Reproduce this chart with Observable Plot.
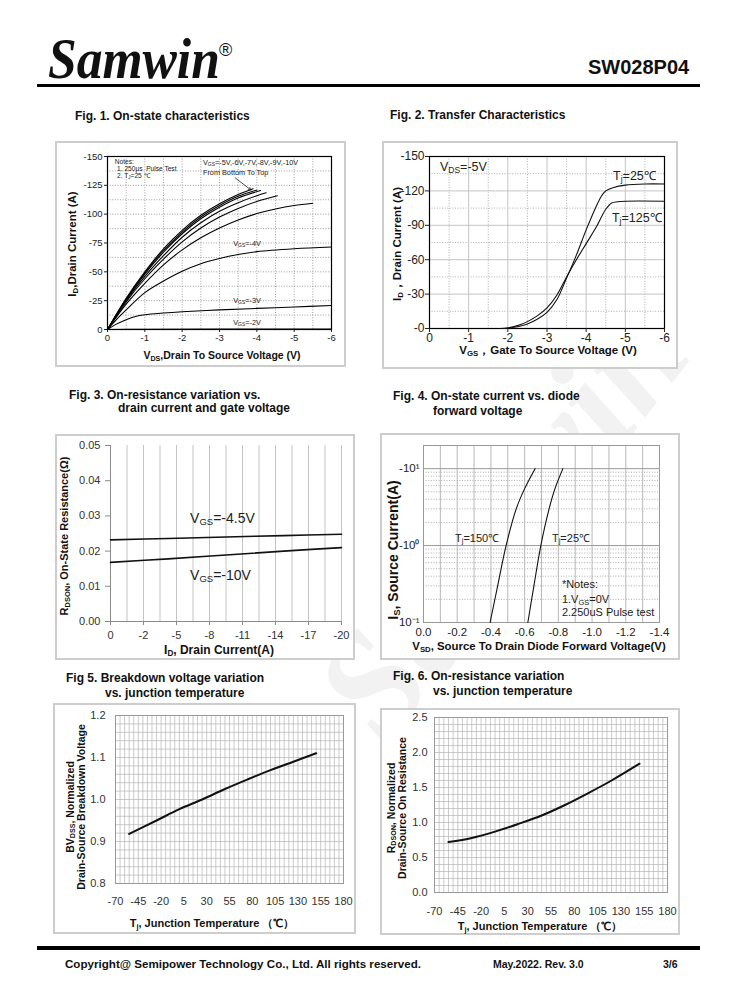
<!DOCTYPE html>
<html><head><meta charset="utf-8">
<script src="https://cdn.jsdelivr.net/npm/d3@7"></script>
<script src="https://cdn.jsdelivr.net/npm/@observablehq/plot@0.6"></script>
<style>
body{margin:0;background:#fff;font-family:"Liberation Sans",Arial,sans-serif;color:#111;}
#page{position:relative;width:738px;height:1000px;overflow:hidden;background:#fff;}
.abs{position:absolute;white-space:nowrap;line-height:1;}
.frame{position:absolute;border:2px solid #cdcdcd;box-sizing:border-box;background:#fff;}
.frame svg{position:absolute;left:0;top:0;}
sub{font-size:0.68em;vertical-align:-0.25em;line-height:0;}
sup{font-size:0.68em;vertical-align:0.45em;line-height:0;}
</style></head><body><div id="page"></div>
<script>
// ---------------- DATA ----------------
// Fig 1: On-state characteristics, [VDS (V), ID (A)]
const f1Vgs2  = [[0,0],[-1,-0.2],[-3,-0.3],[-6,-0.4]];
const f1Vgs3  = [[0,0],[-0.2,-4],[-0.5,-8.5],[-0.75,-11.3],[-1,-12.8],[-1.5,-14.3],[-2,-15.4],[-3,-17],[-4,-18.3],[-5,-19.5],[-6,-20.8]];
const f1Vgs4  = [[0,0],[-0.25,-9],[-0.5,-17],[-1,-32],[-1.5,-42],[-2,-50.5],[-2.5,-57],[-3,-61.5],[-3.5,-65],[-4,-67.5],[-5,-70],[-6,-71.5]];
const f1Vgs5  = [[0,0],[-0.5,-22],[-1,-40],[-1.5,-56],[-2,-69],[-2.5,-79.5],[-3,-88],[-3.5,-95],[-4,-100.5],[-4.5,-104.5],[-5,-107.5],[-5.5,-109.5]];
const f1Vgs6  = [[0,0],[-0.5,-24],[-1,-44],[-1.5,-61],[-2,-76],[-2.5,-88],[-3,-97.5],[-3.5,-105],[-4,-111],[-4.55,-116]];
const f1Vgs7  = [[0,0],[-0.5,-25],[-1,-46],[-1.5,-64],[-2,-80],[-2.5,-92.5],[-3,-102.5],[-3.5,-110],[-4,-116],[-4.25,-118.5]];
const f1Vgs8  = [[0,0],[-0.5,-26],[-1,-48],[-1.5,-67],[-2,-83],[-2.5,-96],[-3,-106],[-3.5,-114],[-4.1,-120.5]];
const f1Vgs9  = [[0,0],[-0.5,-26.5],[-1,-49],[-1.5,-68.5],[-2,-84.5],[-2.5,-97.5],[-3,-107.5],[-3.5,-115.5],[-4.0,-121]];
const f1Vgs10 = [[0,0],[-0.5,-27],[-1,-50],[-1.5,-70],[-2,-86],[-2.5,-99],[-3,-109],[-3.5,-117],[-3.9,-122]];
const f1XTicks = [0,-1,-2,-3,-4,-5,-6];
const f1YTicks = [0,-25,-50,-75,-100,-125,-150];
const f1Labels = [
  {x:-0.21, y:-145.8, t:"Notes:"},
  {x:-0.27, y:-139.6, t:"1. 250μs&nbsp; Pulse Test"},
  {x:-0.27, y:-133.4, t:"2. T<sub>J</sub>=25 ℃"},
  {x:-2.57, y:-144.5, t:"V<sub>GS</sub>=-5V,-6V,-7V,-8V,-9V,-10V"},
  {x:-2.57, y:-136, t:"From Bottom To Top"},
  {x:-3.38, y:-74.6, t:"V<sub>GS</sub>=-4V"},
  {x:-3.38, y:-25, t:"V<sub>GS</sub>=-3V"},
  {x:-3.38, y:-6, t:"V<sub>GS</sub>=-2V"}
];
const f1Arrow = [{x1:-3.42, y1:-131.5, x2:-3.84, y2:-121}];

// Fig 2: Transfer characteristics, [VGS (V), ID (A)]
const f2T25  = [[-1.9,0],[-2,-0.3],[-2.25,-1.5],[-2.5,-4],[-2.75,-8],[-3,-14],[-3.25,-25],[-3.5,-44],[-3.75,-64],[-4,-86],[-4.25,-106],[-4.4,-116],[-4.5,-120],[-4.7,-123],[-5,-125],[-5.5,-126],[-6,-126]];
const f2T125 = [[-1.8,0],[-2,-0.5],[-2.25,-2.5],[-2.5,-6],[-2.75,-11],[-3,-18],[-3.25,-29],[-3.5,-45],[-3.75,-60],[-4,-74],[-4.25,-88],[-4.5,-104],[-4.65,-109.5],[-4.8,-110.5],[-5,-111],[-6,-111]];
const f2XTicks = [0,-1,-2,-3,-4,-5,-6];
const f2YTicks = [0,-30,-60,-90,-120,-150];
const f2Labels = [
  {x:-0.28, y:-140.4, t:"V<sub>DS</sub>=-5V"},
  {x:-4.70, y:-133.4, t:"T<sub>j</sub>=25℃"},
  {x:-4.67, y:-96.5, t:"T<sub>j</sub>=125℃"}
];

// Fig 3: RDS(on) vs drain current, [ID (A), RDSON (Ω)]
const f3Vgs45 = [[0,0.0232],[-5,0.0236],[-10,0.0240],[-15,0.0244],[-20,0.0248]];
const f3Vgs10 = [[0,0.0168],[-5,0.0178],[-10,0.0189],[-15,0.0200],[-20,0.0210]];
const f3XTickLabels = ["0","-2","-5","-8","-11","-14","-17","-20"];
const f3YTicks = [0,0.01,0.02,0.03,0.04,0.05];
const f3Labels = [
  {x:-6.93, y:0.0293, t:"V<sub>GS</sub>=-4.5V"},
  {x:-6.93, y:0.0131, t:"V<sub>GS</sub>=-10V"}
];

// Fig 4: Body diode, [VSD (V), |IS| (A)]
const f4T150 = [[-0.395,0.1],[-0.44,0.3],[-0.49,1],[-0.55,3],[-0.6,5.5],[-0.662,10]];
const f4T25  = [[-0.619,0.1],[-0.655,0.3],[-0.696,1],[-0.745,3],[-0.78,5.5],[-0.827,10]];
const f4XTicks = [0,-0.2,-0.4,-0.6,-0.8,-1.0,-1.2,-1.4];
const f4YTicks = [0.1,1,10];
const f4YTickLabels = ["10⁻¹","-10⁰","-10¹"];
const f4Labels = [
  {x:-0.19, y:1.27, t:"T<sub>j</sub>=150℃"},
  {x:-0.765, y:1.27, t:"T<sub>j</sub>=25℃"},
  {x:-0.824, y:0.312, t:"*Notes:"},
  {x:-0.824, y:0.20, t:"1.V<sub>GS</sub>=0V"},
  {x:-0.824, y:0.135, t:"2.250uS Pulse test"}
];

// Fig 5: normalized BVDSS vs Tj
const f5Curve = [[-55,0.918],[-25,0.950],[0,0.977],[25,1.000],[50,1.025],[75,1.048],[100,1.070],[125,1.090],[150,1.110]];
const f5YTicks = [0.8,0.9,1.0,1.1,1.2];
// Fig 6: normalized RDS(on) vs Tj
const f6Curve = [[-55,0.72],[-30,0.78],[-5,0.87],[20,0.98],[45,1.10],[70,1.25],[95,1.42],[120,1.60],[150,1.84]];
const f6YTicks = [0,0.5,1.0,1.5,2.0,2.5];
const tjTicks = [-70,-45,-20,5,30,55,80,105,130,155,180];

// ---------------- HELPERS ----------------
const page = document.getElementById("page");
const FONT = '"Liberation Sans", Arial, sans-serif';
const hy = d => String(+d.toFixed(3)).replace("\u2212","-");

function txt(html, left, cy, style = {}) {
  const d = document.createElement("div");
  d.className = "abs"; d.innerHTML = html;
  Object.assign(d.style, {left: left + "px", top: cy + "px", transform: "translateY(-50%)"}, style);
  page.appendChild(d); return d;
}
function axTitle(html, cx, cy, rot, style = {}) {
  const d = document.createElement("div");
  d.className = "abs"; d.innerHTML = html;
  Object.assign(d.style, {left: cx + "px", top: cy + "px", fontWeight: "bold", lineHeight: "1.15", textAlign: "center",
    transform: "translate(-50%,-50%)" + (rot ? " rotate(-90deg)" : "")}, style);
  page.appendChild(d);
}
function mkChart(fr, pa, opts) {
  const [fx0, fy0, fx1, fy1] = fr, [px0, py0, px1, py1] = pa;
  const div = document.createElement("div"); div.className = "frame";
  Object.assign(div.style, {left: fx0 + "px", top: fy0 + "px", width: (fx1 - fx0) + "px", height: (fy1 - fy0) + "px"});
  const ox = fx0 + 2, oy = fy0 + 2, W = fx1 - fx0 - 4, H = fy1 - fy0 - 4;
  const chart = Plot.plot({width: W, height: H, marginLeft: px0 - ox, marginRight: ox + W - px1,
    marginTop: py0 - oy, marginBottom: oy + H - py1,
    style: {background: "transparent", fontFamily: FONT, fontSize: "10px", color: "#222", overflow: "visible"}, ...opts});
  div.appendChild(chart); page.appendChild(div);
  return {chart, ox, oy};
}
function annotate(c, items, style) {
  const sx = c.chart.scale("x"), sy = c.chart.scale("y");
  for (const it of items) txt(it.t, c.ox + sx.apply(it.x), c.oy + sy.apply(it.y), style);
}

// ---------------- WATERMARK ----------------
txt('Samwin', 250, 520, {font: 'italic bold 150px "Liberation Serif", serif', color: "#f2f2f2",
  transform: "translateY(-50%) rotate(-52deg)", transformOrigin: "50% 50%"});

// ---------------- HEADER / FOOTER ----------------
txt('Samwin', 48, 59, {font: 'italic bold 56px "Liberation Serif", "Times New Roman", serif', transform: "translateY(-50%) scaleX(0.92)", transformOrigin: "0 50%"});
txt('®', 219, 50, {font: '18px "Liberation Sans", Arial, sans-serif'});
txt('SW028P04', 588, 67, {font: 'bold 20px "Liberation Sans", Arial, sans-serif'});
const hl = document.createElement("div");
Object.assign(hl.style, {position: "absolute", left: "37px", top: "84px", width: "663px", height: "3px", background: "#000"});
page.appendChild(hl);
const fl = document.createElement("div");
Object.assign(fl.style, {position: "absolute", left: "37px", top: "946px", width: "663px", height: "4px", background: "#000"});
page.appendChild(fl);
txt('Copyright@ Semipower Technology Co., Ltd. All rights reserved.', 65, 963, {font: 'bold 11.6px "Liberation Sans", Arial, sans-serif'});
txt('May.2022. Rev. 3.0', 493, 964, {font: 'bold 10.5px "Liberation Sans Narrow", "Liberation Sans", Arial, sans-serif'});
txt('3/6', 663, 964, {font: 'bold 10.5px "Liberation Sans Narrow", "Liberation Sans", Arial, sans-serif'});

// ---------------- FIGURE TITLES ----------------
const tStyle = {font: 'bold 12px "Liberation Sans", Arial, sans-serif'};
txt('Fig. 1. On-state characteristics', 75, 116, tStyle);
txt('Fig. 2. Transfer Characteristics', 390, 115, tStyle);
txt('Fig. 3. On-resistance variation vs.', 69, 395, tStyle);
txt('drain current and gate voltage', 118, 408, tStyle);
txt('Fig. 4. On-state current vs. diode', 393, 396, tStyle);
txt('forward voltage', 433, 411, tStyle);
txt('Fig 5. Breakdown voltage variation', 66, 678, tStyle);
txt('vs. junction temperature', 105, 693, tStyle);
txt('Fig. 6. On-resistance variation', 393, 676, tStyle);
txt('vs. junction temperature', 433, 691, tStyle);

// ---------------- FIG 1 ----------------
const c1 = mkChart([55,141,346,367], [107,156,331,329], {
  x: {domain: [0,-6]}, y: {domain: [0,-150]},
  marks: [
    Plot.gridX(d3.range(0,-6.01,-0.5), {stroke: "#888", strokeOpacity: 1, strokeDasharray: "1,1.6", strokeWidth: 0.8}),
    Plot.gridY(d3.range(0,-150.1,-12.5), {stroke: "#888", strokeOpacity: 1, strokeDasharray: "1,1.6", strokeWidth: 0.8}),
    Plot.frame({stroke: "#000", strokeWidth: 1.2}),
    Plot.axisX(f1XTicks, {tickFormat: hy, tickSize: 3, tickPadding: 2, fontSize: 9.5, label: null}),
    Plot.axisY(f1YTicks, {tickFormat: hy, tickSize: 3, tickPadding: 2, fontSize: 9.5, label: null}),
    ...[f1Vgs2,f1Vgs3,f1Vgs4,f1Vgs5,f1Vgs6,f1Vgs7,f1Vgs8,f1Vgs9,f1Vgs10].map(s =>
      Plot.line(s, {x: d => d[0], y: d => d[1], stroke: "#000", strokeWidth: 1.1, curve: "catmull-rom"})),
    Plot.arrow(f1Arrow, {x1: "x1", y1: "y1", x2: "x2", y2: "y2", stroke: "#222", strokeWidth: 0.8, headLength: 5})
  ]
});
annotate(c1, f1Labels.slice(0, 3), {font: '6.6px "Liberation Sans", Arial, sans-serif', color: "#222"});
annotate(c1, f1Labels.slice(3), {font: '7.3px "Liberation Sans", Arial, sans-serif', color: "#222"});
axTitle('I<sub>D</sub>,Drain Current (A)', 73, 244, true, {fontSize: "11.5px"});
axTitle('V<sub>DS</sub>,Drain To Source Voltage (V)', 222, 355, false, {fontSize: "10.5px"});

// ---------------- FIG 2 ----------------
const c2 = mkChart([382,141,678,369], [429,156,664,328], {
  x: {domain: [0,-6]}, y: {domain: [0,-150]},
  marks: [
    Plot.gridX(d3.range(-0.5,-6,-1), {stroke: "#999", strokeOpacity: 1, strokeDasharray: "1,1.6", strokeWidth: 0.8}),
    Plot.gridY(d3.range(-15,-150,-30), {stroke: "#999", strokeOpacity: 1, strokeDasharray: "1,1.6", strokeWidth: 0.8}),
    Plot.gridX(f2XTicks, {stroke: "#c4c4c4", strokeOpacity: 1, strokeWidth: 1}),
    Plot.gridY(f2YTicks, {stroke: "#c4c4c4", strokeOpacity: 1, strokeWidth: 1}),
    Plot.frame({stroke: "#000", strokeWidth: 1.2}),
    Plot.axisX(f2XTicks, {tickFormat: hy, tickSize: 4, tickPadding: 1, fontSize: 12, label: null}),
    Plot.axisY(f2YTicks, {tickFormat: d => d === 0 ? "-0" : hy(d), tickSize: 4, tickPadding: 1, fontSize: 12, label: null}),
    ...[f2T25, f2T125].map(s =>
      Plot.line(s, {x: d => d[0], y: d => d[1], stroke: "#111", strokeWidth: 1.1, curve: "catmull-rom"}))
  ]
});
annotate(c2, f2Labels, {font: '12.5px "Liberation Sans", Arial, sans-serif', color: "#222"});
axTitle('I<sub>D</sub>，Drain Current (A)', 398, 244, true, {fontSize: "11.5px"});
axTitle('V<sub>GS</sub>，Gate To Source Voltage (V)', 548, 351, false, {fontSize: "11.5px"});

// ---------------- FIG 3 ----------------
const f3Pos = f3XTickLabels.map((_, i) => -i * 20 / 7);
const c3 = mkChart([55,434,355,660], [110,445,341,621], {
  x: {domain: [0,-20]}, y: {domain: [0,0.05]},
  marks: [
    Plot.gridX(d3.range(0,15).map(i => -i * 20 / 14), {stroke: "#c4c4c4", strokeOpacity: 1, strokeWidth: 1}),
    Plot.ruleX([0], {stroke: "#8a8a8a"}),
    Plot.ruleY([0], {stroke: "#8a8a8a"}),
    Plot.axisX(f3Pos, {tickFormat: (d, i) => f3XTickLabels[i], tickSize: 4, tickPadding: 6, fontSize: 11, stroke: "#8a8a8a", fill: "#333", label: null}),
    Plot.axisY(f3YTicks, {tickFormat: d => d.toFixed(2), tickSize: 5, tickPadding: 5, fontSize: 11, stroke: "#8a8a8a", fill: "#333", label: null}),
    ...[f3Vgs45, f3Vgs10].map(s =>
      Plot.line(s, {x: d => d[0], y: d => d[1], stroke: "#111", strokeWidth: 1.6, curve: "catmull-rom"}))
  ]
});
annotate(c3, f3Labels, {font: '14px "Liberation Sans", Arial, sans-serif', color: "#222"});
axTitle('R<sub>DSON</sub>, On-State Resistance(Ω)', 64, 536, true, {fontSize: "11px"});
axTitle('I<sub>D</sub>, Drain Current(A)', 219, 651, false, {fontSize: "12px"});

// ---------------- FIG 4 ----------------
const f4Minor = [];
for (const dec of [0.1, 1, 10]) for (let k = 2; k <= 9; k++) if (dec * k < 20) f4Minor.push(dec * k);
const f4Fmt = d => f4YTickLabels[f4YTicks.findIndex(t => Math.abs(t - d) < 1e-9 * t)] ?? "";
const c4 = mkChart([380,433,680,660], [423,445,659,622], {
  x: {domain: [0,-1.4]}, y: {type: "log", domain: [0.1,20], axis: null},
  marks: [
    Plot.gridY(f4Minor, {stroke: "#999", strokeOpacity: 1, strokeDasharray: "1,1.6", strokeWidth: 0.8}),
    Plot.gridX(d3.range(-0.1,-1.4,-0.1), {stroke: "#b8b8b8", strokeOpacity: 1, strokeWidth: 1}),
    Plot.gridY(f4YTicks, {stroke: "#999", strokeOpacity: 1, strokeWidth: 1}),
    Plot.frame({stroke: "#999", strokeWidth: 1}),
    Plot.axisX(f4XTicks, {tickFormat: d => d.toFixed(1).replace("\u2212","-"), tickSize: 0, tickPadding: 5, fontSize: 11.5, fill: "#222", label: null}),
    Plot.text(f4YTicks, {x: 0, y: d => d, text: f4Fmt, textAnchor: "end", dx: -4, fontSize: 11.5, fill: "#222"}),
    ...[f4T150, f4T25].map(s =>
      Plot.line(s, {x: d => d[0], y: d => d[1], stroke: "#111", strokeWidth: 1.1, curve: "catmull-rom"}))
  ]
});
annotate(c4, f4Labels, {font: '11px "Liberation Sans", Arial, sans-serif', color: "#222"});
axTitle('I<sub>S</sub>, Source Current(A)', 393, 550, true, {fontSize: "14px"});
axTitle('V<sub>SD</sub>, Source To Drain Diode Forward Voltage(V)', 539, 647, false, {fontSize: "11.4px"});

// ---------------- FIG 5 ----------------
const c5 = mkChart([53,703,356,934], [115,715,343,883], {
  x: {domain: [-70,180]}, y: {domain: [0.8,1.2]},
  marks: [
    Plot.gridX(d3.range(-70,181,5), {stroke: "#b4b4b4", strokeOpacity: 1, strokeWidth: 0.7}),
    Plot.gridY(d3.range(0.8,1.2001,0.02), {stroke: "#b4b4b4", strokeOpacity: 1, strokeWidth: 0.7}),
    Plot.frame({stroke: "#999", strokeWidth: 1}),
    Plot.axisX(tjTicks, {tickFormat: hy, tickSize: 0, tickPadding: 14, fontSize: 11, fill: "#333", label: null}),
    Plot.axisY(f5YTicks, {tickFormat: d => d.toFixed(1), tickSize: 0, tickPadding: 10, fontSize: 11, fill: "#333", label: null}),
    Plot.line(f5Curve, {x: d => d[0], y: d => d[1], stroke: "#111", strokeWidth: 2, curve: "catmull-rom"})
  ]
});
axTitle('BV<sub>DSS</sub>, Normalized<br>Drain-Source Breakdown Voltage', 75, 807, true, {fontSize: "10.5px", lineHeight: "1.0"});
axTitle('T<sub>j</sub>, Junction Temperature （℃）', 212, 923, false, {fontSize: "11px"});

// ---------------- FIG 6 ----------------
const c6 = mkChart([380,708,680,935], [434,717,667,892], {
  x: {domain: [-70,180]}, y: {domain: [0,2.5]},
  marks: [
    Plot.gridX(d3.range(-70,181,5), {stroke: "#b4b4b4", strokeOpacity: 1, strokeWidth: 0.7}),
    Plot.gridY(d3.range(0,2.5001,0.1), {stroke: "#b4b4b4", strokeOpacity: 1, strokeWidth: 0.7}),
    Plot.frame({stroke: "#999", strokeWidth: 1}),
    Plot.axisX(tjTicks, {tickFormat: hy, tickSize: 0, tickPadding: 15, fontSize: 11, fill: "#333", label: null}),
    Plot.axisY(f6YTicks, {tickFormat: d => d.toFixed(1), tickSize: 0, tickPadding: 7, fontSize: 11, fill: "#333", label: null}),
    Plot.line(f6Curve, {x: d => d[0], y: d => d[1], stroke: "#111", strokeWidth: 2, curve: "catmull-rom"})
  ]
});
axTitle('R<sub>DSON</sub>, Normalized<br>Drain-Source On Resistance', 396, 808, true, {fontSize: "10.5px", lineHeight: "1.0"});
axTitle('T<sub>j</sub>, Junction Temperature （℃）', 540, 926, false, {fontSize: "11px"});
</script></body></html>
